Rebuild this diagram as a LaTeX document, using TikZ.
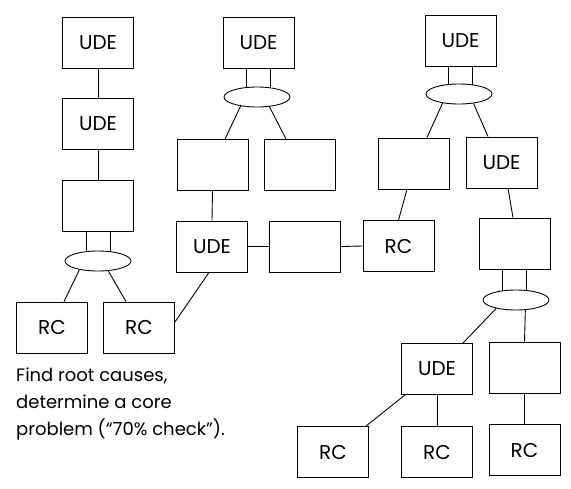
\documentclass[tikz,border=0pt]{standalone}
\usepackage{fontspec}
\setmainfont{Poppins}
\usetikzlibrary{shapes.geometric,backgrounds}
\tikzset{
  box/.style={draw, fill=white, line width=0.9pt, minimum width=71pt, minimum height=51pt, inner sep=0pt, font=\fontsize{20}{23}\selectfont},
  oval/.style={draw, fill=white, ellipse, line width=0.9pt, minimum width=66pt, minimum height=20pt, inner sep=0pt},
  conn/.style={line width=0.9pt},
}
\begin{document}
\begin{tikzpicture}[x=1pt,y=-1pt]
\useasboundingbox (0,0) rectangle (571,488);
% left column
\node[box] (A1) at (98,42.5) {UDE};
\node[box] (A2) at (98,124) {UDE};
\node[box] (A3) at (98,205.5) {};
\node[oval] (EA) at (98,261) {};
\node[box] (RC1) at (52,327.5) {RC};
\node[box] (RC2) at (139,327.5) {RC};
% middle column
\node[box] (B1) at (258.5,43) {UDE};
\node[oval] (EB) at (257,97) {};
\node[box] (B2) at (212.5,165) {};
\node[box] (B3) at (300,165) {};
\node[box] (B4) at (212,246.5) {UDE};
\node[box] (M) at (304.5,246.5) {};
\node[box] (C4) at (398.5,246) {RC};
% right column
\node[box] (C1) at (460.5,40.5) {UDE};
\node[oval] (EC) at (459,94) {};
\node[box] (C2) at (414,163.5) {};
\node[box] (C3) at (501.5,162.5) {UDE};
\node[box] (C5) at (514.5,243.5) {};
\node[oval] (ED) at (516,300) {};
\node[box] (D1) at (437,369) {UDE};
\node[box] (D2) at (524.5,368) {};
\node[box] (R1) at (333,452) {RC};
\node[box] (R2) at (437,452) {RC};
\node[box] (R3) at (524.5,450) {RC};
% text
\node[anchor=north west, align=left, inner sep=0pt, font=\fontsize{18}{27}\selectfont] (T) at (16,368) {Find root causes,\\determine a core\\problem (“70\% check”).};
\begin{scope}[on background layer]
\draw[conn] (A1.south) -- (A2.north);
\draw[conn] (A2.south) -- (A3.north);
\draw[conn] ([xshift=-12pt]A3.south) -- ([xshift=-12pt]A3.south |- EA.center);
\draw[conn] ([xshift=12pt]A3.south) -- ([xshift=12pt]A3.south |- EA.center);
\draw[conn] (EA.205) -- ([xshift=12pt]RC1.north);
\draw[conn] (EA.316) -- ([xshift=-13pt]RC2.north);
\draw[conn] ([xshift=-12pt]B1.south) -- ([xshift=-12pt]B1.south |- EB.center);
\draw[conn] ([xshift=12pt]B1.south) -- ([xshift=12pt]B1.south |- EB.center);
\draw[conn] (EB.209) -- ([xshift=12.5pt]B2.north);
\draw[conn] (EB.322) -- ([xshift=-14pt]B3.north);
\draw[conn] (B2.south) -- (B4.north);
\draw[conn] (B4.east) -- (M.west);
\draw[conn] (M.east) -- (C4.west);
\draw[conn] ([xshift=-3pt]B4.south) -- ([yshift=5.5pt]RC2.east);
\draw[conn] ([xshift=-12pt]C1.south) -- ([xshift=-12pt]C1.south |- EC.center);
\draw[conn] ([xshift=12pt]C1.south) -- ([xshift=12pt]C1.south |- EC.center);
\draw[conn] (EC.209) -- ([xshift=13pt]C2.north);
\draw[conn] (EC.327) -- ([xshift=-13.5pt]C3.north);
\draw[conn] ([xshift=-7pt]C2.south) -- (C4.north);
\draw[conn] ([xshift=6.5pt]C3.south) -- ([xshift=-1.5pt]C5.north);
\draw[conn] ([xshift=-12pt]C5.south) -- ([xshift=-12pt]C5.south |- ED.center);
\draw[conn] ([xshift=12pt]C5.south) -- ([xshift=12pt]C5.south |- ED.center);
\draw[conn] (ED.203) -- ([xshift=26pt]D1.north);
\draw[conn] (ED.313) -- (D2.north);
\draw[conn] ([xshift=-32pt]D1.south) -- ([xshift=33pt]R1.north);
\draw[conn] (D1.south) -- (R2.north);
\draw[conn] (D2.south) -- (R3.north);
\end{scope}
\end{tikzpicture}
\end{document}
